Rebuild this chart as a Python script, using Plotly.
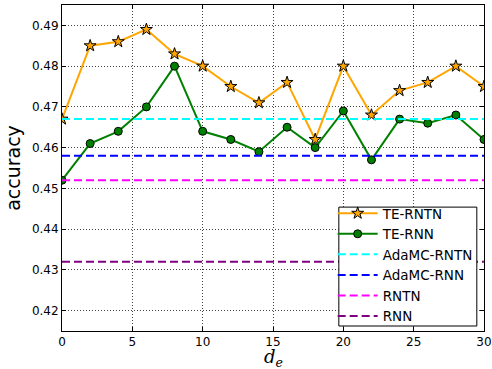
import plotly.graph_objects as go

x_vals = [0, 2, 4, 6, 8, 10, 12, 14, 16, 18, 20, 22, 24, 26, 28, 30]
te_rntn = [0.467, 0.485, 0.486, 0.489, 0.483, 0.480, 0.475, 0.471, 0.476, 0.462, 0.480, 0.468, 0.474, 0.476, 0.480, 0.475]
te_rnn = [0.452, 0.461, 0.464, 0.470, 0.480, 0.464, 0.462, 0.459, 0.465, 0.460, 0.469, 0.457, 0.467, 0.466, 0.468, 0.462]
baseline_names = ["AdaMC-RNTN", "AdaMC-RNN", "RNTN", "RNN"]
baseline_values = [0.467, 0.458, 0.452, 0.432]
baseline_colors = ["cyan", "blue", "magenta", "purple"]
x_ticks = [0, 5, 10, 15, 20, 25, 30]
y_ticks = [0.42, 0.43, 0.44, 0.45, 0.46, 0.47, 0.48, 0.49]

fig = go.Figure()
fig.add_trace(go.Scatter(
    x=x_vals, y=te_rntn, mode="lines+markers", name="TE-RNTN",
    line=dict(color="orange", width=2),
    marker=dict(symbol="star", size=9, color="orange", line=dict(color="black", width=1)),
))
fig.add_trace(go.Scatter(
    x=x_vals, y=te_rnn, mode="lines+markers", name="TE-RNN",
    line=dict(color="green", width=2),
    marker=dict(symbol="circle", size=8, color="green", line=dict(color="black", width=1)),
))
for name, val, col in zip(baseline_names, baseline_values, baseline_colors):
    fig.add_trace(go.Scatter(
        x=[x_vals[0], x_vals[-1]], y=[val, val], mode="lines", name=name,
        line=dict(color=col, width=2, dash="8px,4px"),
    ))

axis_common = dict(
    showline=True, linecolor="black", linewidth=1, mirror="ticks",
    ticks="inside", ticklen=4, tickcolor="black",
    showgrid=True, gridcolor="#444", griddash="1px,2px", gridwidth=1,
    zeroline=False, automargin=False,
    tickfont=dict(family="DejaVu Sans", size=12, color="black"),
)

fig.update_layout(
    width=492, height=369,
    margin=dict(l=62, r=8, t=5, b=38, autoexpand=False),
    paper_bgcolor="white", plot_bgcolor="white",
    font=dict(family="DejaVu Sans", color="black"),
    xaxis=dict(range=[0, 30], tickvals=x_ticks, **axis_common),
    yaxis=dict(range=[0.415, 0.495], tickvals=y_ticks, tickformat=".2f", **axis_common),
    showlegend=True,
    legend=dict(
        x=0.985, y=-0.003, xanchor="right", yanchor="bottom",
        borderwidth=0, bgcolor="rgba(0,0,0,0)",
        font=dict(family="DejaVu Sans", size=13.5, color="black"),
        tracegroupgap=0, itemwidth=40,
    ),
    shapes=[
        dict(type="rect", xref="paper", yref="paper", layer="above",
             x0=0.656, x1=0.983, y0=0.0153, y1=0.380,
             fillcolor="white", line=dict(color="black", width=1)),
    ],
    annotations=[
        dict(text="<i>d</i><sub><i>e</i></sub>", xref="paper", yref="paper",
             x=0.5, y=-0.04, xanchor="center", yanchor="top", showarrow=False,
             font=dict(family="DejaVu Serif", size=18, color="black")),
    ],
)
fig.update_yaxes(title=dict(text="accuracy", font=dict(family="DejaVu Sans", size=19), standoff=6))

fig.write_html("out.html", post_script="document.body.style.margin='0px';",
               config={"displayModeBar": False})
